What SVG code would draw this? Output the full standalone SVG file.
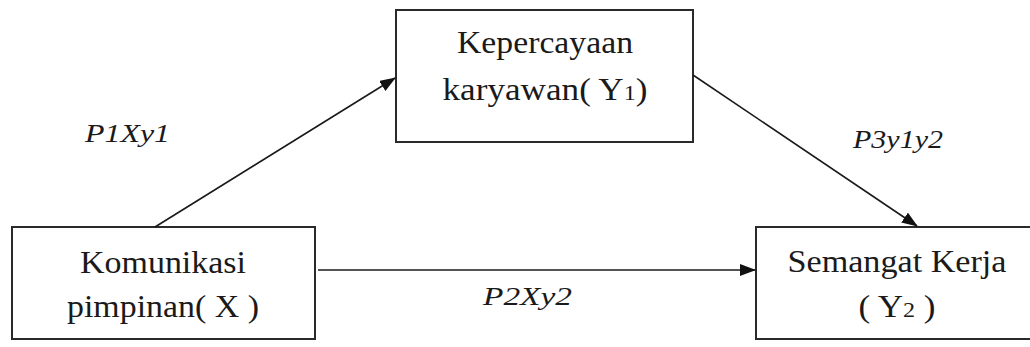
<svg xmlns="http://www.w3.org/2000/svg" width="1030" height="347" viewBox="0 0 1030 347">
  <defs>
    <style>
      .box { fill: #ffffff; stroke: #2a2a2a; stroke-width: 2; }
      .lbl { font-family: "Liberation Serif", "Times New Roman", serif; font-size: 32px; fill: #1a1a1a; }
      .sub { font-size: 22px; }
      .path { font-family: "Liberation Serif", "Times New Roman", serif; font-style: italic; font-size: 25px; fill: #1a1a1a; }
      .conn { stroke: #1a1a1a; stroke-width: 1.6; fill: none; }
    </style>
    <marker id="arrow" markerWidth="16" markerHeight="12" refX="15" refY="6" orient="auto" markerUnits="userSpaceOnUse">
      <path d="M0,0 L16,6 L0,12 Z" fill="#111"/>
    </marker>
  </defs>
  <rect width="1030" height="347" fill="#ffffff"/>

  <g id="node-x">
    <rect class="box" x="12" y="227" width="303" height="112"/>
    <text class="lbl" x="163" y="273" text-anchor="middle" textLength="166" lengthAdjust="spacingAndGlyphs">Komunikasi</text>
    <text class="lbl" x="163" y="317" text-anchor="middle" textLength="192" lengthAdjust="spacingAndGlyphs">pimpinan( X )</text>
  </g>

  <g id="node-y1">
    <rect class="box" x="396" y="10" width="297" height="132"/>
    <text class="lbl" x="545" y="53" text-anchor="middle" textLength="176" lengthAdjust="spacingAndGlyphs">Kepercayaan</text>
    <text class="lbl" x="545" y="100" text-anchor="middle" textLength="205" lengthAdjust="spacingAndGlyphs">karyawan( Y<tspan class="sub">1</tspan>)</text>
  </g>

  <g id="node-y2">
    <rect class="box" x="756" y="227" width="290" height="112"/>
    <text class="lbl" x="897" y="272" text-anchor="middle" textLength="219" lengthAdjust="spacingAndGlyphs">Semangat Kerja</text>
    <text class="lbl" x="897" y="317" text-anchor="middle" textLength="77" lengthAdjust="spacingAndGlyphs">( Y<tspan class="sub">2</tspan> )</text>
  </g>

  <g id="connectors">
    <line class="conn" x1="155" y1="227" x2="395" y2="78" marker-end="url(#arrow)"/>
    <line class="conn" x1="693" y1="75" x2="917" y2="226" marker-end="url(#arrow)"/>
    <line class="conn" x1="318" y1="270" x2="755" y2="270" marker-end="url(#arrow)"/>
  </g>

  <g id="labels">
    <text class="path" x="85" y="142" textLength="85" lengthAdjust="spacingAndGlyphs">P1Xy1</text>
    <text class="path" x="853" y="148" textLength="90" lengthAdjust="spacingAndGlyphs">P3y1y2</text>
    <text class="path" x="483" y="305" textLength="89" lengthAdjust="spacingAndGlyphs">P2Xy2</text>
  </g>
</svg>
